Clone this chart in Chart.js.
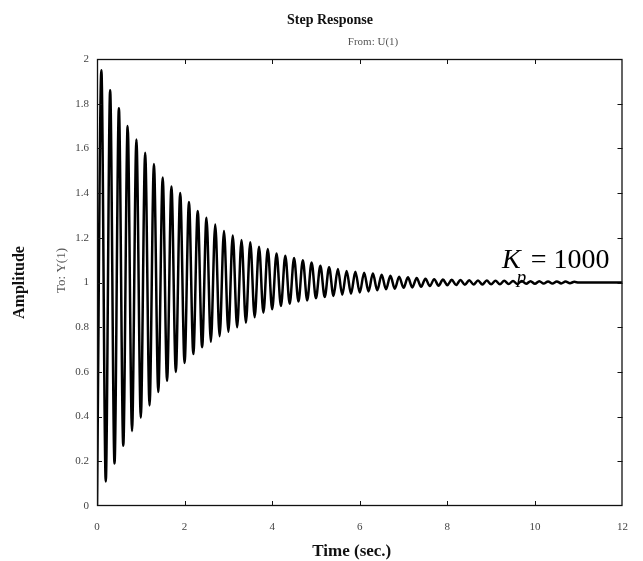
<!DOCTYPE html>
<html>
<head>
<meta charset="utf-8">
<title>Step Response</title>
<script src="https://cdn.jsdelivr.net/npm/chart.js@4.4.1/dist/chart.umd.min.js"></script>
<style>
  html, body { margin: 0; padding: 0; background: #fff; }
  #wrap { position: relative; width: 643px; height: 561px; }
</style>
</head>
<body>
<div id="wrap"><canvas id="step" width="643" height="561"></canvas></div>
<script>
// extrema of the response (every half period ~0.1 s)
var times = [
    0, 0.1, 0.2, 0.3, 0.4, 0.5, 0.6, 0.7, 0.8, 0.9,
    1.0, 1.1, 1.2, 1.3, 1.4, 1.5, 1.6, 1.7, 1.8, 1.9,
    2.0, 2.1, 2.2, 2.3, 2.4, 2.5, 2.6, 2.7, 2.8, 2.9,
    3.0, 3.1, 3.2, 3.3, 3.4, 3.5, 3.6, 3.7, 3.8, 3.9,
    4.0, 4.1, 4.2, 4.3, 4.4, 4.5, 4.6, 4.7, 4.8, 4.9,
    5.0, 5.1, 5.2, 5.3, 5.4, 5.5, 5.6, 5.7, 5.8, 5.9,
    6.0, 6.1, 6.2, 6.3, 6.4, 6.5, 6.6, 6.7, 6.8, 6.9,
    7.0, 7.1, 7.2, 7.3, 7.4, 7.5, 7.6, 7.7, 7.8, 7.9,
    8.0, 8.1, 8.2, 8.3, 8.4, 8.5, 8.6, 8.7, 8.8, 8.9,
    9.0, 9.1, 9.2, 9.3, 9.4, 9.5, 9.6, 9.7, 9.8, 9.9,
    10.0, 10.1, 10.2, 10.3, 10.4, 10.5, 10.6, 10.7, 10.8, 10.9,
    11.0, 12.0
];
var amplitude = [
    0, 1.95, 0.11, 1.86, 0.19, 1.78, 0.27, 1.70, 0.335, 1.64,
    0.395, 1.58, 0.45, 1.53, 0.51, 1.47, 0.56, 1.43, 0.60, 1.40,
    0.64, 1.36, 0.68, 1.32, 0.71, 1.29, 0.735, 1.26, 0.76, 1.23,
    0.78, 1.21, 0.80, 1.19, 0.82, 1.18, 0.845, 1.16, 0.865, 1.15,
    0.88, 1.13, 0.895, 1.12, 0.905, 1.11, 0.915, 1.10, 0.92, 1.09,
    0.93, 1.075, 0.935, 1.068, 0.94, 1.06, 0.945, 1.052, 0.95, 1.048,
    0.955, 1.044, 0.96, 1.04, 0.965, 1.035, 0.97, 1.03, 0.972, 1.026,
    0.976, 1.023, 0.978, 1.02, 0.981, 1.017, 0.984, 1.015, 0.986, 1.013,
    0.988, 1.012, 0.989, 1.011, 0.99, 1.01, 0.991, 1.009, 0.991, 1.009,
    0.992, 1.008, 0.992, 1.008, 0.993, 1.007, 0.993, 1.007, 0.994, 1.006,
    0.994, 1.006, 0.995, 1.005, 0.995, 1.005, 0.996, 1.004, 0.997, 1.003,
    1.0, 1.0
];

var xTickValues = [0, 2, 4, 6, 8, 10, 12];
var xTickLabels = ['0', '2', '4', '6', '8', '10', '12'];
var yTickValues = [0, 0.2, 0.4, 0.6, 0.8, 1, 1.2, 1.4, 1.6, 1.8, 2];
var yTickLabels = ['0', '0.2', '0.4', '0.6', '0.8', '1', '1.2', '1.4', '1.6', '1.8', '2'];

var points = times.map(function (t, i) { return {x: t, y: amplitude[i]}; });

var serif = '"Liberation Serif", "DejaVu Serif", serif';

// box round the plot with matlab style ticks pointing inward
var framePlugin = {
    id: 'frame',
    afterDatasetsDraw: function (chart) {
	var c = chart.ctx, a = chart.chartArea;
	var sx = chart.scales.x, sy = chart.scales.y;
	c.save();
	c.strokeStyle = '#111';
	c.lineWidth = 1.3;
	c.strokeRect(a.left + 0.5, a.top + 0.5, a.right - a.left - 1, a.bottom - a.top - 1);
	c.lineWidth = 1;
	c.beginPath();
	for (var i = 1; i < xTickValues.length - 1; i++) {
	    var px = Math.round(sx.getPixelForValue(xTickValues[i])) + 0.5;
	    c.moveTo(px, a.bottom); c.lineTo(px, a.bottom - 5);
	    c.moveTo(px, a.top); c.lineTo(px, a.top + 5);
	}
	for (var j = 1; j < yTickValues.length - 1; j++) {
	    var py = Math.round(sy.getPixelForValue(yTickValues[j])) + 0.5;
	    c.moveTo(a.left, py); c.lineTo(a.left + 5, py);
	    c.moveTo(a.right, py); c.lineTo(a.right - 5, py);
	}
	c.stroke();
	c.restore();
    }
};

var textPlugin = {
    id: 'texts',
    afterDraw: function (chart) {
	var c = chart.ctx, a = chart.chartArea;
	var sx = chart.scales.x, sy = chart.scales.y;
	c.save();
	c.textAlign = 'center';
	c.textBaseline = 'middle';

	c.fillStyle = '#111';
	c.font = 'bold 14px ' + serif;
	c.fillText('Step Response', 330, 20);
	c.fillStyle = '#555';
	c.font = '11px ' + serif;
	c.fillText('From: U(1)', 373, 42);

	c.fillStyle = '#111';
	c.font = 'bold 17px ' + serif;
	c.fillText('Time (sec.)', (a.left + a.right) / 2 - 8, 552);

	c.save();
	c.font = 'bold 16px ' + serif;
	c.translate(20, (a.top + a.bottom) / 2);
	c.rotate(-Math.PI / 2);
	c.fillText('Amplitude', 0, 0);
	c.restore();

	c.save();
	c.fillStyle = '#555';
	c.font = '13px ' + serif;
	c.translate(62, (a.top + a.bottom) / 2 - 12);
	c.rotate(-Math.PI / 2);
	c.fillText('To: Y(1)', 0, 0);
	c.restore();

	// gain label next to the settled curve
	var kx = sx.getPixelForValue(9.25), ky = sy.getPixelForValue(1.064);
	c.textAlign = 'left';
	c.textBaseline = 'alphabetic';
	c.fillStyle = '#000';
	c.font = 'italic 28px ' + serif;
	c.fillText('K', kx, ky);
	var kw = c.measureText('K').width;
	c.font = 'italic 19px ' + serif;
	c.fillText('p', kx + kw - 4, ky + 15);
	c.font = '28px ' + serif;
	c.fillText('= 1000', kx + kw + 10, ky);
	c.restore();
    }
};

var ctx = document.getElementById('step').getContext('2d');
var chart = new Chart(ctx, {
    type: 'line',
    data: {
	datasets: [{
	    data: points,
	    borderColor: '#000',
	    borderWidth: 2.5,
	    pointRadius: 0,
	    fill: false,
	    cubicInterpolationMode: 'monotone'
	}]
    },
    options: {
	responsive: false,
	animation: false,
	devicePixelRatio: 1,
	layout: {
	    padding: {top: 59, right: 7, left: 0, bottom: 0}
	},
	plugins: {
	    legend: {display: false},
	    tooltip: {enabled: false}
	},
	scales: {
	    x: {
		type: 'linear',
		min: 0,
		max: 12,
		afterBuildTicks: function (s) {
		    s.ticks = xTickValues.map(function (v) { return {value: v}; });
		},
		afterFit: function (s) { s.height = 55; },
		grid: {display: false, drawTicks: false},
		border: {display: false},
		ticks: {
		    padding: 15,
		    color: '#444',
		    maxRotation: 0,
		    font: {family: serif, size: 11},
		    callback: function (v, i) { return xTickLabels[i]; }
		}
	    },
	    y: {
		type: 'linear',
		min: 0,
		max: 2,
		afterBuildTicks: function (s) {
		    s.ticks = yTickValues.map(function (v) { return {value: v}; });
		},
		afterFit: function (s) { s.width = 97; },
		grid: {display: false, drawTicks: false},
		border: {display: false},
		ticks: {
		    padding: 8,
		    color: '#444',
		    font: {family: serif, size: 11},
		    callback: function (v, i) { return yTickLabels[i]; }
		}
	    }
	}
    },
    plugins: [framePlugin, textPlugin]
});
</script>
</body>
</html>
